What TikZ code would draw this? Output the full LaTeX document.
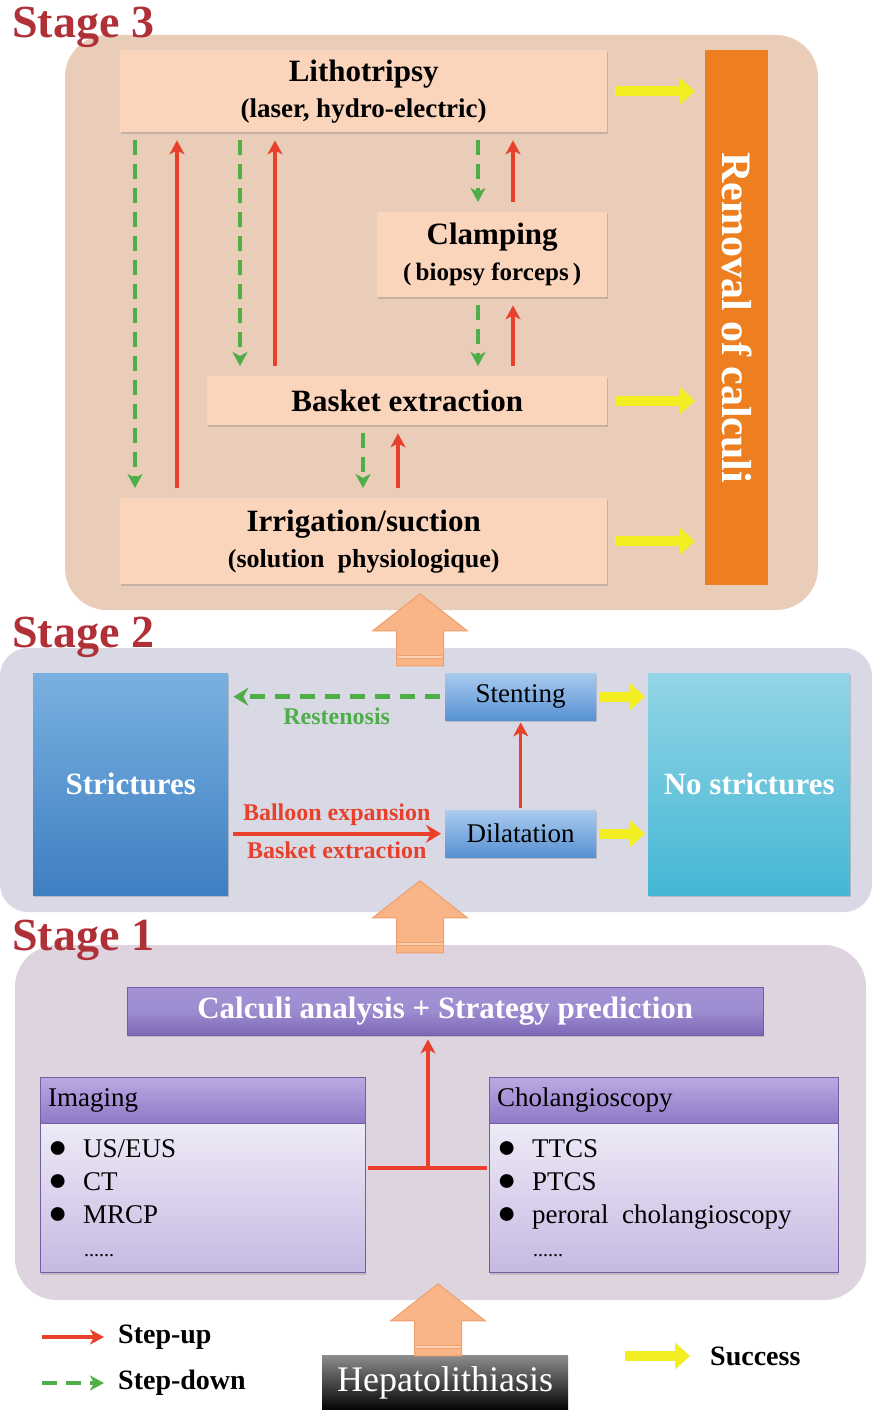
\documentclass[tikz,border=0pt]{standalone}
\usepackage{fontspec}
\setmainfont{Liberation Serif}
\usetikzlibrary{arrows.meta, positioning, shapes.arrows, shadows}
\definecolor{stageRed}{HTML}{B03038}
\definecolor{panelThree}{HTML}{E9CDB9}
\definecolor{peachFill}{HTML}{FAD4BB}
\definecolor{removalOrange}{HTML}{EE7F21}
\definecolor{panelTwo}{HTML}{D9D9E5}
\definecolor{panelOne}{HTML}{DED4E0}
\definecolor{succYellow}{HTML}{F2EE22}
\definecolor{stepRed}{HTML}{E8402A}
\definecolor{stepGreen}{HTML}{4FAE47}
\definecolor{arrowFill}{HTML}{F9B488}
\definecolor{arrowEdge}{HTML}{EE9F6A}
\definecolor{stricTop}{HTML}{79B0E0}
\definecolor{stricBot}{HTML}{3E7FC2}
\definecolor{noTop}{HTML}{93D5E6}
\definecolor{noBot}{HTML}{44B7D4}
\definecolor{stentTop}{HTML}{A9CBEE}
\definecolor{stentBot}{HTML}{5791D3}
\definecolor{calcTop}{HTML}{A392D4}
\definecolor{calcBot}{HTML}{7C67B6}
\definecolor{headTop}{HTML}{BBA9E2}
\definecolor{headBot}{HTML}{8F78C6}
\definecolor{bodyTop}{HTML}{EEEAF6}
\definecolor{bodyBot}{HTML}{C5B9E2}

\begin{document}
\begin{tikzpicture}[x=1pt, y=-1pt,
    % ── shared styles ───────────────────────────────────────────────
    panel/.style={rounded corners=42pt},
    stage label/.style={
        anchor=north west, inner sep=0pt, text=stageRed,
        font=\bfseries\fontsize{46}{46}\selectfont,
    },
    litho box/.style={
        rectangle, fill=peachFill, anchor=north west,
        inner sep=0pt, align=center,
        font=\bfseries\fontsize{31}{36}\selectfont,
        drop shadow={shadow xshift=1pt, shadow yshift=-2pt, opacity=0.35},
    },
    removal bar/.style={
        rectangle, fill=removalOrange, anchor=north west, inner sep=0pt,
        text=white, font=\bfseries\fontsize{42}{42}\selectfont,
    },
    blue box/.style={
        rectangle, anchor=north west, inner sep=0pt, text=white,
        font=\bfseries\fontsize{31}{36}\selectfont,
        drop shadow={shadow xshift=1pt, shadow yshift=-2pt, opacity=0.35},
    },
    small blue/.style={
        rectangle, anchor=north west, inner sep=0pt,
        top color=stentTop, bottom color=stentBot,
        font=\fontsize{27}{30}\selectfont,
        minimum width=151pt, minimum height=47pt,
        drop shadow={shadow xshift=1pt, shadow yshift=-2pt, opacity=0.35},
    },
    list head/.style={
        rectangle, anchor=north west, inner xsep=8pt, inner ysep=0pt,
        top color=headTop, bottom color=headBot, draw=headBot!80!black,
        align=left, font=\fontsize{27}{30}\selectfont,
        minimum height=46pt,
    },
    list body/.style={
        rectangle, inner xsep=8pt, inner ysep=0pt,
        top color=bodyTop, bottom color=bodyBot, draw=headBot!80!black,
        align=left, font=\fontsize{27}{33}\selectfont,
        minimum height=149pt,
        drop shadow={shadow xshift=1pt, shadow yshift=-2pt, opacity=0.3},
    },
    big up/.style={
        single arrow, rotate=90, inner xsep=0pt, inner ysep=23pt,
        fill=arrowFill, draw=arrowEdge, line width=1pt,
        minimum height=72pt,
        single arrow head extend=24pt, single arrow tip angle=104,
    },
    arrow stripe/.style={draw=arrowEdge, line width=1pt,
        double=arrowFill!60!white, double distance=2pt},
    stepup/.style={
        -{Stealth[length=14pt,width=15pt,inset=4pt]},
        draw=stepRed, line width=3.2pt,
        shorten <=10pt, shorten >=8pt,
    },
    stepdown/.style={
        -{Stealth[length=14pt,width=15pt,inset=4pt]},
        draw=stepGreen, line width=3.2pt, dash pattern=on 15pt off 9pt,
        shorten <=8pt, shorten >=10pt,
    },
    success/.style={
        -{Triangle[length=15pt,width=26pt]},
        draw=succYellow, line width=10pt,
        shorten <=8pt, shorten >=10pt,
    },
    legend text/.style={anchor=west, inner sep=0pt,
        font=\bfseries\fontsize{28}{30}\selectfont},
]
\useasboundingbox (0,0) rectangle (872,1410);

% =============================================================
%  STAGE 3 -- removal of calculi
% =============================================================
\fill[panel, fill=panelThree] (65,35) rectangle (818,610);
\node[stage label] (s3label) at (12,7) {Stage 3};

\node[litho box, minimum width=487pt, minimum height=82pt] (litho) at (120,50)
    {Lithotripsy\\{\fontsize{27}{30}\selectfont (laser, hydro-electric)}};
\node[litho box, minimum width=230pt, minimum height=85pt] (clamp) at (377,212)
    {Clamping\\{\fontsize{25}{30}\selectfont (\,biopsy forceps\,)}};
\node[litho box, minimum width=400pt, minimum height=49pt] (basket) at (207,376)
    {Basket extraction};
\node[litho box, minimum width=487pt, minimum height=86pt] (irrig) at (120,498)
    {Irrigation/suction\\{\fontsize{26}{30}\selectfont (solution\enspace physiologique)}};

\node[removal bar, minimum width=63pt, minimum height=535pt] (removal) at (705,50)
    {\rotatebox{-90}{Removal of calculi}};

% step-down / step-up pairs
\draw[stepdown] ([xshift=15pt]litho.south west) -- ([xshift=15pt]irrig.north west);
\draw[stepup] ([xshift=57pt]irrig.north west) -- ([xshift=57pt]litho.south west);

\draw[stepdown] ([xshift=120pt]litho.south west) -- ([xshift=33pt]basket.north west);
\draw[stepup] ([xshift=68pt]basket.north west) -- ([xshift=155pt]litho.south west);

\draw[stepdown] ([xshift=358pt]litho.south west) -- ([xshift=101pt]clamp.north west);
\draw[stepup] ([xshift=136pt]clamp.north west) -- ([xshift=393pt]litho.south west);

\draw[stepdown] ([xshift=101pt]clamp.south west) -- ([xshift=271pt]basket.north west);
\draw[stepup] ([xshift=306pt]basket.north west) -- ([xshift=136pt]clamp.south west);

\draw[stepdown] ([xshift=156pt]basket.south west) -- ([xshift=243pt]irrig.north west);
\draw[stepup] ([xshift=278pt]irrig.north west) -- ([xshift=191pt]basket.south west);

% success arrows
\draw[success] (litho.east) -- (litho.east -| removal.west);
\draw[success] (basket.east) -- (basket.east -| removal.west);
\draw[success] (irrig.east) -- (irrig.east -| removal.west);

% =============================================================
%  STAGE 2 -- strictures
% =============================================================
\fill[panel, rounded corners=28pt, fill=panelTwo] (0,648) rectangle (872,912);
\node[stage label] (s2label) at (12,617) {Stage 2};

\node[blue box, top color=stricTop, bottom color=stricBot,
      minimum width=195pt, minimum height=222pt] (stric) at (33,673) {Strictures};
\node[blue box, top color=noTop, bottom color=noBot,
      minimum width=202pt, minimum height=222pt] (nostric) at (648,673) {No strictures};
\node[small blue] (stent) at (445,673) {Stenting};
\node[small blue] (dilat) at (445,810) {Dilatation};

\draw[stepdown, line width=4.5pt, dash pattern=on 15pt off 10pt,
      shorten <=5pt, shorten >=5pt,
      -{Stealth[length=15pt,width=18pt,inset=5pt]}]
    (stent.west) -- (stent.west -| stric.east)
    node[midway, below=6pt, text=stepGreen,
         font=\bfseries\fontsize{24}{26}\selectfont] (resten) {Restenosis};
\draw[stepup, line width=4pt, shorten <=5pt, shorten >=4pt,
      -{Stealth[length=15pt,width=18pt,inset=5pt]}]
    (dilat.west -| stric.east) -- (dilat.west)
    node[midway, above=3pt, text=stepRed,
         font=\bfseries\fontsize{24}{26}\selectfont] (balloon) {Balloon expansion}
    node[midway, below=3pt, text=stepRed,
         font=\bfseries\fontsize{24}{26}\selectfont] (bextr) {Basket extraction};
\draw[stepup, shorten <=2pt, shorten >=2pt] (dilat.north) -- (stent.south);

\draw[success, shorten <=3pt, shorten >=3pt] (stent.east) -- (stent.east -| nostric.west);
\draw[success, shorten <=3pt, shorten >=3pt] (dilat.east) -- (dilat.east -| nostric.west);

% =============================================================
%  STAGE 1 -- diagnosis
% =============================================================
\fill[panel, fill=panelOne] (15,945) rectangle (866,1300);
\node[stage label] (s1label) at (12,920) {Stage 1};

\node[rectangle, anchor=north west, inner sep=0pt,
      top color=calcTop, bottom color=calcBot, middle color=calcTop!85!calcBot,
      draw=calcBot!90!black, text=white,
      font=\bfseries\fontsize{31}{34}\selectfont,
      minimum width=636pt, minimum height=48pt,
      drop shadow={shadow xshift=1pt, shadow yshift=-2pt, opacity=0.35}]
    (calc) at (127,987) {Calculi analysis + Strategy prediction};

\node[list head, text width=309pt] (imghead) at (40,1077) {Imaging};
\node[list body, text width=309pt, below=0pt of imghead] (imgbody)
    {\makebox[35pt][l]{\fontsize{32}{33}\selectfont ●}US/EUS\\
     \makebox[35pt][l]{\fontsize{32}{33}\selectfont ●}CT\\
     \makebox[35pt][l]{\fontsize{32}{33}\selectfont ●}MRCP\\
     \hspace*{36pt}{\fontsize{20}{20}\selectfont ......}};

\node[list head, text width=333pt] (cholhead) at (489,1077) {Cholangioscopy};
\node[list body, text width=333pt, below=0pt of cholhead] (cholbody)
    {\makebox[35pt][l]{\fontsize{32}{33}\selectfont ●}TTCS\\
     \makebox[35pt][l]{\fontsize{32}{33}\selectfont ●}PTCS\\
     \makebox[35pt][l]{\fontsize{32}{33}\selectfont ●}peroral\enspace cholangioscopy\\
     \hspace*{36pt}{\fontsize{20}{20}\selectfont ......}};

\coordinate (junc) at (428,1168);
\draw[stepup, -, shorten <=3pt, shorten >=2pt] (imgbody.east |- junc) -- (cholbody.west |- junc);
\draw[stepup, shorten <=0pt, shorten >=4pt] (junc) -- (calc.south -| junc);

% =============================================================
%  Entry and stage arrows
% =============================================================
\node[rectangle, anchor=north west, inner sep=0pt,
      top color=black!45, bottom color=black, text=white,
      font=\fontsize{36}{38}\selectfont,
      minimum width=246pt, minimum height=56pt] (hepato) at (322,1355) {Hepatolithiasis};

\node[big up] (up3) at (420,639) {};
\node[big up] (up2) at (420,926) {};
\node[big up] (up1) at (438,1329) {};
\foreach \a in {up3, up2, up1}
    \draw[arrow stripe] ([shift={(-22pt,9pt)}]\a.tail) -- ([shift={(22pt,9pt)}]\a.tail);

% =============================================================
%  Legend
% =============================================================
\node[legend text] (legup) at (118,1337) {Step-up};
\draw[stepup, shorten <=0pt, shorten >=0pt] ([xshift=-76pt]legup.west) -- ([xshift=-14pt]legup.west);
\node[legend text] (legdown) at (118,1383) {Step-down};
\draw[stepdown, shorten <=0pt, shorten >=0pt] ([xshift=-76pt]legdown.west) -- ([xshift=-14pt]legdown.west);
\node[legend text] (legsucc) at (710,1356) {Success};
\draw[success, shorten <=0pt, shorten >=0pt] ([xshift=-85pt]legsucc.west) -- ([xshift=-20pt]legsucc.west);

\end{tikzpicture}
\end{document}
